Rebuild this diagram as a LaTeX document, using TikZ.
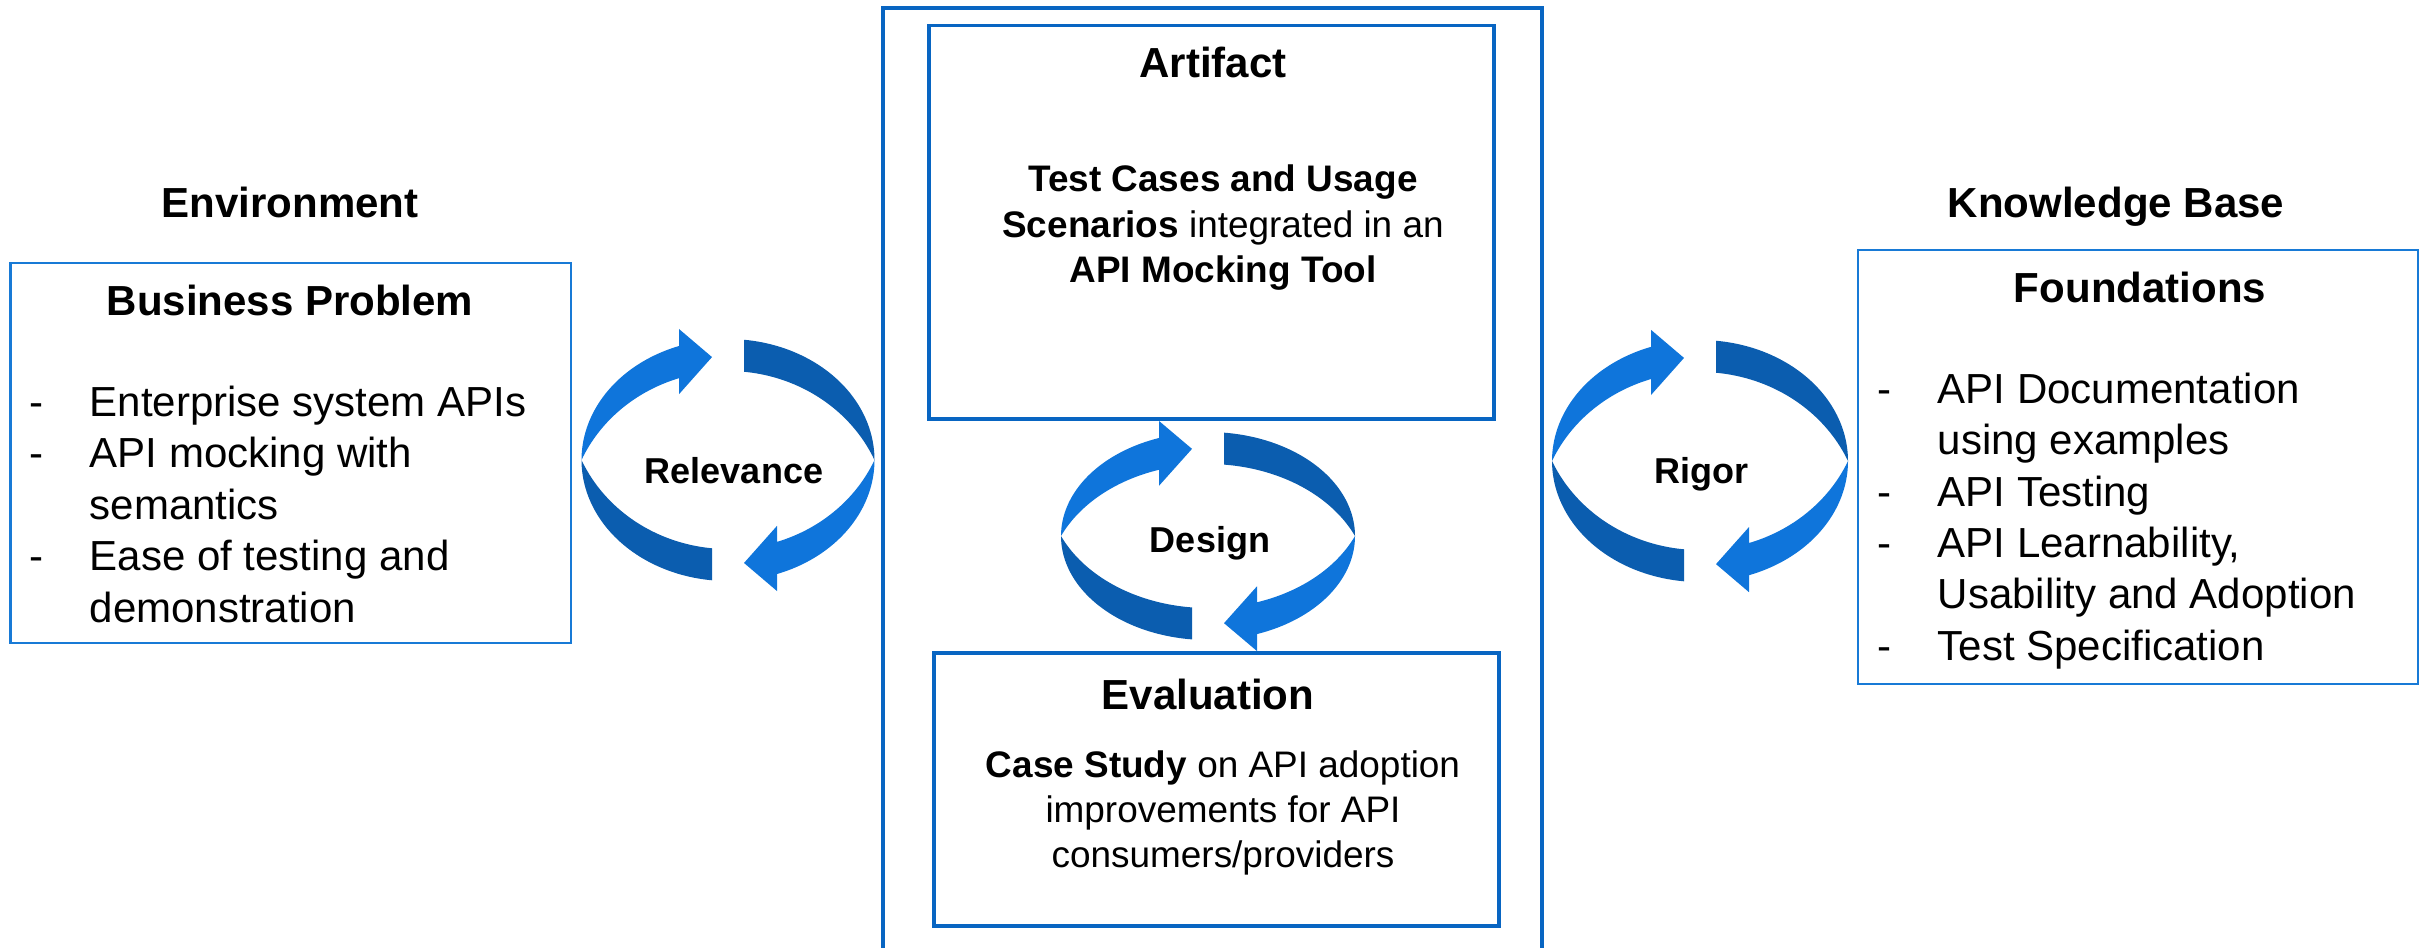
\documentclass[tikz,border=0pt]{standalone}
\usepackage{fontspec}
\setmainfont{Liberation Sans}

\definecolor{boxblue}{RGB}{8,101,194}
\definecolor{listblue}{RGB}{24,122,214}
\definecolor{ringlight}{RGB}{15,117,219}
\definecolor{ringdark}{RGB}{11,93,175}

% Two curved arrows chasing each other round an ellipse, drawn as a
% twisted ribbon: smooth outer ellipse, pointed inner lens.
% #1,#2 centre; #3 half width; #4 outer half height; #5 inner half height
\newcommand\loopring[5]{%
  \pgfmathsetmacro\ringbase{acos(-49/#3)}%
  \pgfmathsetmacro\ringtail{360-acos(-16/#3)}%
  \pgfmathsetmacro\ringsin{sin(\ringbase)}%
  \pgfmathsetmacro\lensd{0.675*#5}%
  \pgfmathsetmacro\lensB{#5+\lensd}%
  \pgfmathsetmacro\lensA{#3/sqrt(1-(\lensd/\lensB)^2)}%
  \pgfmathsetmacro\lensin{-\lensd+\lensB*sqrt(1-(49/\lensA)^2)}%
  \pgfmathsetmacro\ringout{#4*\ringsin}%
  \begin{scope}[shift={(#1,#2)}, yscale=-1]
    \foreach \r in {0,180}{
      \begin{scope}[rotate=\r]
        \fill[ringdark] plot[domain=\ringtail:180, samples=50] ({#3*cos(\x)},{#4*sin(\x)})
          -- plot[domain=-#3:-16, samples=50] (\x,{\lensd-\lensB*sqrt(1-(\x/\lensA)^2)}) -- cycle;
        \fill[ringlight] plot[domain=180:\ringbase, samples=50] ({#3*cos(\x)},{#4*sin(\x)})
          -- (-49,{\ringout+17}) -- (-16,{(\ringout+\lensin)/2+5})
          -- (-49,{\lensin-16})
          -- plot[domain=-49:-#3, samples=50] (\x,{-\lensd+\lensB*sqrt(1-(\x/\lensA)^2)}) -- cycle;
      \end{scope}}
  \end{scope}}

\begin{document}
\begin{tikzpicture}[x=0.01cm, y=-0.01cm,
  hd/.style={font=\fontsize{11.95pt}{14.6pt}\selectfont\bfseries, inner sep=0pt, anchor=base},
  lst/.style={font=\fontsize{11.95pt}{14.6pt}\selectfont, inner sep=0pt, anchor=base west, align=left},
  body/.style={font=\fontsize{10.5pt}{12.8pt}\selectfont, inner sep=0pt, anchor=base, align=center},
  cyc/.style={font=\fontsize{10.24pt}{12pt}\selectfont\bfseries, inner sep=0pt, anchor=base},
  mainbox/.style={draw=boxblue, line width=1pt, inner sep=0pt},
  sidebox/.style={draw=listblue, line width=0.7pt, inner sep=0pt}]
\useasboundingbox (0,0) rectangle (2427,947);

% frames
\node[mainbox, minimum width=6.59cm, minimum height=9.91cm] (outer) at (1212.5,504) {};
\node[mainbox, minimum width=5.65cm, minimum height=3.935cm] (artifact) at (1211.5,222.25) {};
\node[mainbox, minimum width=5.65cm, minimum height=2.73cm] (evaluation) at (1216.5,789.5) {};
\node[sidebox, minimum width=5.605cm, minimum height=3.80cm] (business) at (290.75,453) {};
\node[sidebox, minimum width=5.60cm, minimum height=4.34cm] (foundations) at (2138,467) {};

% cycles
\loopring{728}{460}{146.5}{121}{89}
\loopring{1208}{536}{147}{104}{72}
\loopring{1700}{461}{148}{121}{89}

% headings
\node[hd] (envtitle) at (290,217) {Environment};
\node[hd] (kbtitle) at (2116,217) {Knowledge Base};
\node[hd] (bptitle) at (290,315) {Business Problem};
\node[hd] (fdtitle) at (2140,302) {Foundations};
\node[hd] (arttitle) at (1213,77) {Artifact};
\node[hd] (evaltitle) at (1208,709) {Evaluation};

% cycle labels
\node[cyc] (relevance) at (734,483) {Relevance};
\node[cyc] (design) at (1210,552) {Design};
\node[cyc] (rigor) at (1701,483) {Rigor};

% box contents (placed by the baseline of their last line)
\node[body] (arttext) at (1223,282) {\textbf{Test Cases and Usage}\\
  \textbf{Scenarios} integrated in an\\
  \textbf{API Mocking Tool}};
\node[body] (evaltext) at (1223,867) {\textbf{Case Study} on API adoption\\
  improvements for API\\
  consumers/providers};
\node[lst] (bplist) at (29,622) {\makebox[0.6cm][l]{-}Enterprise system APIs\\
  \makebox[0.6cm][l]{-}API mocking with\\
  \hspace*{0.6cm}semantics\\
  \makebox[0.6cm][l]{-}Ease of testing and\\
  \hspace*{0.6cm}demonstration};
\node[lst] (fdlist) at (1877,660) {\makebox[0.6cm][l]{-}API Documentation\\
  \hspace*{0.6cm}using examples\\
  \makebox[0.6cm][l]{-}API Testing\\
  \makebox[0.6cm][l]{-}API Learnability,\\
  \hspace*{0.6cm}Usability and Adoption\\
  \makebox[0.6cm][l]{-}Test Specification};
\end{tikzpicture}
\end{document}
